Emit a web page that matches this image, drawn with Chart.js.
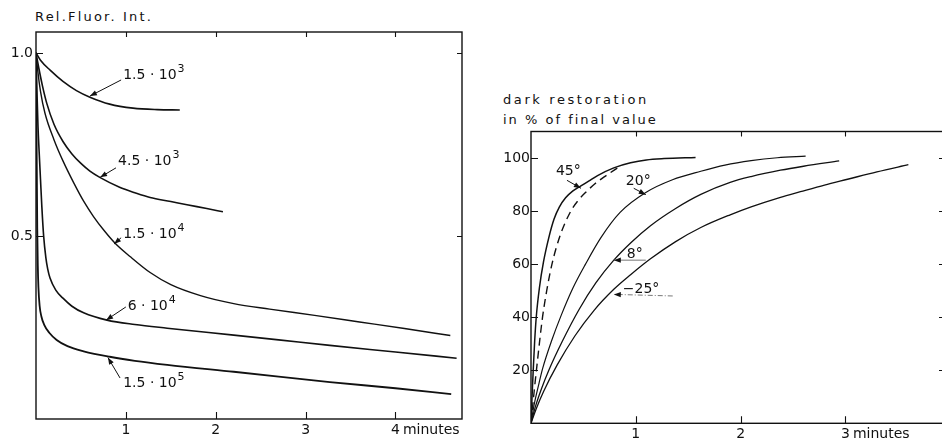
<!DOCTYPE html>
<html>
<head>
<meta charset="utf-8">
<script src="https://cdn.jsdelivr.net/npm/chart.js@4.4.1/dist/chart.umd.min.js"></script>
<style>
body{margin:0;background:#fff;width:942px;height:439px;overflow:hidden;position:relative;font-family:"DejaVu Sans",sans-serif;color:#111}
#leftBox{position:absolute;left:0;top:0;width:475px;height:439px}
#rightBox{position:absolute;left:475px;top:0;width:470px;height:439px}
.ttl{position:absolute;font-size:13px;white-space:nowrap;line-height:16px}
</style>
</head>
<body>
<div class="ttl" style="left:35px;top:9px;letter-spacing:2.2px">Rel.Fluor. Int.</div>
<div class="ttl" style="left:503px;top:92px;letter-spacing:2.6px">dark restoration</div>
<div class="ttl" style="left:503px;top:112px;letter-spacing:2px">in % of final value</div>
<div id="leftBox"><canvas id="chartFluor" width="475" height="439"></canvas></div>
<div id="rightBox"><canvas id="chartDark" width="470" height="439"></canvas></div>
<script>
// ---- left panel: fluorescence decay, time in minutes ----
var fluorNames = ['1.5 · 10^3', '4.5 · 10^3', '1.5 · 10^4', '6 · 10^4', '1.5 · 10^5'];
var t15e3 = [0, 0.05, 0.16, 0.3, 0.45, 0.6, 0.82, 1.08, 1.35, 1.6];
var v15e3 = [1.0, 0.98, 0.952, 0.922, 0.897, 0.879, 0.86, 0.849, 0.845, 0.844];
var t45e3 = [0, 0.03, 0.07, 0.12, 0.2, 0.3, 0.4, 0.5, 0.6, 0.71, 0.93, 1.1, 1.27, 1.5, 1.68, 1.9, 2.08];
var v45e3 = [1.0, 0.96, 0.912, 0.862, 0.805, 0.758, 0.724, 0.698, 0.677, 0.66, 0.633, 0.618, 0.605, 0.594, 0.585, 0.575, 0.566];
var t15e4 = [0, 0.02, 0.05, 0.1, 0.2, 0.3, 0.42, 0.53, 0.64, 0.76, 0.88, 1.05, 1.27, 1.5, 1.83, 2.2, 2.6, 3.1, 3.6, 4.1, 4.61];
var v15e4 = [1.0, 0.95, 0.895, 0.835, 0.763, 0.705, 0.645, 0.595, 0.553, 0.514, 0.48, 0.443, 0.4, 0.367, 0.337, 0.315, 0.3, 0.283, 0.265, 0.247, 0.228];
var t6e4 = [0, 0.01, 0.022, 0.035, 0.05, 0.065, 0.085, 0.11, 0.13, 0.156, 0.22, 0.3, 0.4, 0.53, 0.79, 1.1, 1.46, 2.2, 2.7, 3.27, 4.0, 4.68];
var v6e4 = [1.0, 0.9, 0.8, 0.73, 0.655, 0.58, 0.5, 0.44, 0.41, 0.385, 0.352, 0.33, 0.308, 0.29, 0.27, 0.258, 0.248, 0.229, 0.216, 0.201, 0.183, 0.166];
var t15e5 = [0, 0.004, 0.009, 0.014, 0.02, 0.027, 0.04, 0.06, 0.09, 0.15, 0.23, 0.35, 0.53, 0.82, 1.1, 1.46, 2.2, 2.7, 3.27, 4.0, 4.62];
var v15e5 = [1.0, 0.85, 0.68, 0.52, 0.42, 0.36, 0.31, 0.28, 0.258, 0.235, 0.216, 0.199, 0.185, 0.17, 0.159, 0.148, 0.129, 0.116, 0.101, 0.084, 0.068];
var fluorXTicks = [1, 2, 3, 4];
var fluorYTicks = [0.5, 1.0];

// ---- right panel: dark restoration in % ----
var darkNames = ['45°', '45° (dashed)', '20°', '8°', '−25°'];
var t45 = [0, 0.01, 0.02, 0.035, 0.05, 0.08, 0.12, 0.17, 0.22, 0.27, 0.33, 0.4, 0.476, 0.55, 0.635, 0.79, 0.95, 1.1, 1.27, 1.57];
var v45 = [0, 10, 19, 31, 40, 51, 61, 70, 77, 81.5, 85, 87.6, 89.5, 91.3, 93.4, 96.3, 98.2, 99.3, 99.8, 100.2];
var t45d = [0, 0.03, 0.06, 0.11, 0.15, 0.2, 0.28, 0.38, 0.45, 0.52, 0.61, 0.71, 0.83];
var v45d = [0, 12, 23, 40, 50, 60, 71, 80, 84, 87, 90.3, 93.2, 96.4];
var t20 = [0, 0.03, 0.07, 0.11, 0.2, 0.286, 0.4, 0.52, 0.667, 0.85, 1.095, 1.35, 1.62, 1.85, 2.1, 2.35, 2.62];
var v20 = [0, 7, 14, 20.5, 31.5, 40.5, 51, 60, 70, 79.5, 87, 91.8, 95, 97.3, 99, 100.1, 100.7];
var t8 = [0, 0.04, 0.1, 0.17, 0.3, 0.46, 0.62, 0.79, 0.95, 1.14, 1.38, 1.62, 1.9, 2.1, 2.38, 2.6, 2.94];
var v8 = [0, 6, 13, 20, 31, 43, 53, 61.5, 68, 74.5, 81, 86.3, 90.8, 93, 95.4, 96.9, 98.9];
var tm25 = [0, 0.05, 0.12, 0.25, 0.42, 0.6, 0.79, 0.95, 1.14, 1.38, 1.62, 1.9, 2.1, 2.38, 2.57, 2.8, 3.02, 3.3, 3.6];
var vm25 = [0, 5.5, 12, 22, 33, 42.5, 50.5, 56, 62, 68.5, 73.8, 78.6, 81.6, 85.2, 87.3, 89.8, 92, 94.8, 97.5];
var darkXTicks = [1, 2, 3];
var darkYTicks = [20, 40, 60, 80, 100];

// curve labels: [text, textX, textY, arrowFromX, arrowFromY, arrowToX, arrowToY]
var fluorNotes = [
  [fluorNames[0], 0.97, 0.929, 0.947, 0.926, 0.6, 0.882],
  [fluorNames[1], 0.913, 0.694, 0.89, 0.686, 0.713, 0.66],
  [fluorNames[2], 0.97, 0.495, 0.947, 0.495, 0.869, 0.478],
  [fluorNames[3], 1.02, 0.298, 1.0, 0.306, 0.78, 0.27],
  [fluorNames[4], 0.97, 0.087, 0.935, 0.112, 0.8, 0.168]
];
var darkNotes = [
  ['45°', 0.238, 93.5, 0.343, 91.6, 0.476, 88.6],
  ['20°', 0.905, 89.7, 0.98, 88.6, 1.095, 86.2],
  ['8°', 0.914, 62.5, 1.095, 61.5, 0.79, 61.5],
  ['−25°', 0.876, 49, 1.352, 48, 0.79, 48.6]
];

var FONT = '"DejaVu Sans", sans-serif';
var INK = '#111';

function pts(xs, ys){
  return xs.map(function(x, i){ return {x: x, y: ys[i]}; });
}

function curve(label, xs, ys, width, dash){
  return {
    label: label.replace('^', ''),
    data: pts(xs, ys),
    showLine: true,
    borderColor: INK,
    borderWidth: width,
    borderDash: dash || [],
    pointRadius: 0,
    cubicInterpolationMode: 'monotone',
    fill: false
  };
}

function arrow(ctx, x1, y1, x2, y2){
  var a = Math.atan2(y2 - y1, x2 - x1);
  var L = 7, W = 2.6;
  ctx.beginPath();
  ctx.moveTo(x2, y2);
  ctx.lineTo(x2 - L*Math.cos(a) + W*Math.sin(a), y2 - L*Math.sin(a) - W*Math.cos(a));
  ctx.lineTo(x2 - L*Math.cos(a) - W*Math.sin(a), y2 - L*Math.sin(a) + W*Math.cos(a));
  ctx.closePath();
  ctx.fill();
}

// text with an optional raised exponent after '^'
function noteText(ctx, txt, x, y){
  var parts = txt.split('^');
  ctx.font = '14px ' + FONT;
  ctx.fillText(parts[0], x, y);
  if (parts[1]) {
    var w = ctx.measureText(parts[0]).width;
    ctx.font = '11px ' + FONT;
    ctx.fillText(parts[1], x + w + 1, y - 7);
  }
}

// box round the plot with inward ticks, curve labels, "minutes" after the last x label
var paperPlugin = {
  id: 'paper',
  afterDraw: function(chart){
    var o = chart.options.plugins.paper;
    var ctx = chart.ctx, a = chart.chartArea;
    var xs = chart.scales.x, ys = chart.scales.y;
    ctx.save();
    ctx.strokeStyle = INK;
    ctx.lineWidth = 1.4;
    ctx.strokeRect(a.left, a.top, a.right - a.left, a.bottom - a.top);
    ctx.lineWidth = 1.1;
    ctx.beginPath();
    o.xTicks.forEach(function(v){
      var p = Math.round(xs.getPixelForValue(v)) + 0.5;
      ctx.moveTo(p, a.bottom); ctx.lineTo(p, a.bottom - 7);
      ctx.moveTo(p, a.top); ctx.lineTo(p, a.top + 5);
    });
    o.yTicks.forEach(function(v){
      var p = Math.round(ys.getPixelForValue(v)) + 0.5;
      ctx.moveTo(a.left, p); ctx.lineTo(a.left + 7, p);
      ctx.moveTo(a.right, p); ctx.lineTo(a.right - 5, p);
    });
    ctx.stroke();

    ctx.fillStyle = INK;
    ctx.textBaseline = 'alphabetic';
    ctx.textAlign = 'left';
    o.notes.forEach(function(n, i){
      noteText(ctx, n[0], xs.getPixelForValue(n[1]), ys.getPixelForValue(n[2]));
      var x1 = xs.getPixelForValue(n[3]), y1 = ys.getPixelForValue(n[4]);
      var x2 = xs.getPixelForValue(n[5]), y2 = ys.getPixelForValue(n[6]);
      var st = (o.noteStyles && o.noteStyles[i]) || {};
      ctx.save();
      ctx.strokeStyle = st.color || INK;
      ctx.lineWidth = 1;
      ctx.setLineDash(st.dash || []);
      ctx.beginPath(); ctx.moveTo(x1, y1); ctx.lineTo(x2, y2); ctx.stroke();
      ctx.setLineDash([]);
      arrow(ctx, x1, y1, x2, y2);
      ctx.restore();
    });

    // unit word after the last x tick label
    var items = xs.getLabelItems ? xs.getLabelItems() : [];
    var last = items[items.length - 1];
    if (last) {
      var tr = last.options.translation;
      ctx.font = '14px ' + FONT;
      ctx.textBaseline = last.options.textBaseline;
      var w = ctx.measureText(String(last.label)).width;
      ctx.fillText('minutes', tr[0] + w/2 + 3, tr[1] + (last.textOffset || 0));
    }
    ctx.restore();
  }
};

function axis(min, max, tickVals, size, fmt, fitProp, pad){
  return {
    type: 'linear',
    min: min,
    max: max,
    grid: {display: false, drawTicks: false},
    border: {display: false},
    afterBuildTicks: function(s){ s.ticks = tickVals.map(function(v){ return {value: v}; }); },
    afterFit: function(s){ s[fitProp] = size; },
    ticks: {
      color: INK,
      padding: pad,
      font: {family: FONT, size: 14},
      callback: fmt
    }
  };
}

function baseOptions(pad, xAxis, yAxis, paper){
  return {
    responsive: false,
    animation: false,
    layout: {padding: pad},
    plugins: {legend: {display: false}, tooltip: {enabled: false}, paper: paper},
    scales: {x: xAxis, y: yAxis}
  };
}

new Chart(document.getElementById('chartFluor'), {
  type: 'scatter',
  data: {
    datasets: [
      curve(fluorNames[0], t15e3, v15e3, 1.6),
      curve(fluorNames[1], t45e3, v45e3, 1.6),
      curve(fluorNames[2], t15e4, v15e4, 1.4),
      curve(fluorNames[3], t6e4, v6e4, 1.6),
      curve(fluorNames[4], t15e5, v15e5, 1.8)
    ]
  },
  options: baseOptions(
    {left: 0, right: 13, top: 32, bottom: 0},
    axis(0, 4.74, fluorXTicks, 20, function(v){ return String(v); }, 'height', 3),
    axis(0, 1.057, fluorYTicks, 36, function(v){ return v.toFixed(1); }, 'width', 3),
    {xTicks: fluorXTicks, yTicks: fluorYTicks, notes: fluorNotes}
  ),
  plugins: [paperPlugin]
});

new Chart(document.getElementById('chartDark'), {
  type: 'scatter',
  data: {
    datasets: [
      curve(darkNames[0], t45, v45, 1.5),
      curve(darkNames[1], t45d, v45d, 1.4, [8, 5]),
      curve(darkNames[2], t20, v20, 1.2),
      curve(darkNames[3], t8, v8, 1.3),
      curve(darkNames[4], tm25, vm25, 1.3)
    ]
  },
  options: baseOptions(
    {left: 0, right: 1, top: 131.5, bottom: 0},
    axis(0, 3.94, darkXTicks, 15.7, function(v){ return String(v); }, 'height', 3),
    axis(0, 110, darkYTicks, 56, function(v){ return String(v); }, 'width', 1),
    {xTicks: darkXTicks, yTicks: darkYTicks, notes: darkNotes,
     noteStyles: [{}, {}, {color: '#777'}, {color: '#777', dash: [5, 2, 1, 2]}]}
  ),
  plugins: [paperPlugin]
});
</script>
</body>
</html>
